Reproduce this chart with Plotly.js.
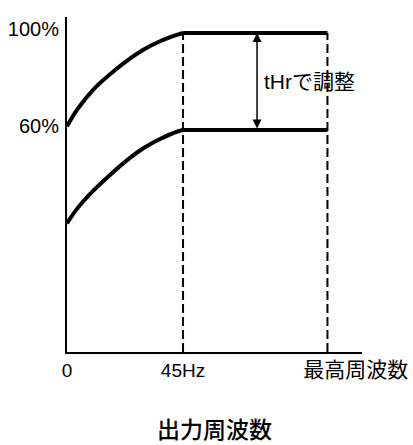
<!DOCTYPE html>
<html><head><meta charset="utf-8">
<script src="https://cdn.plot.ly/plotly-3.0.1.min.js"></script>
<style>html,body{margin:0;padding:0;background:#fff}</style>
</head><body><div id="chart" style="width:413px;height:445px"></div>
<script>
// Data (x: output frequency in Hz-like units, y: torque boost %)
const riseX = [0, 3.8, 10.2, 16.7, 23.2, 29.6, 36.1, 42.6, 45];
const upperRiseY = [61.5, 68.2, 76.7, 83.0, 88.5, 93.1, 96.6, 99.2, 100];
const lowerRiseY = [21.5, 27.4, 35.0, 41.5, 47.5, 52.5, 56.3, 59.3, 60];
const baseHz = 45;
const maxHz = 101;
const upperFlat = 100;
const lowerFlat = 60;
const arrowX = 73.7;
const xTickVals = [0, 45, 112];
const xTickText = ['0', '45Hz', '<span style="font-size:21px">最高周波数</span>'];
const yTickVals = [100, 60];
const yTickText = ['100%', '60%'];
const adjustLabel = 'tHrで調整';
const xTitle = '出力周波数';

const fam = 'Liberation Sans, Arial, Noto Sans CJK JP, sans-serif';
const cjk = 'Noto Sans CJK JP, sans-serif';
const curve = {color: '#000', width: 4};

const traces = [
  {x: riseX, y: upperRiseY, mode: 'lines',
   line: Object.assign({shape: 'spline', smoothing: 1}, curve), hoverinfo: 'skip'},
  {x: [baseHz, maxHz], y: [upperFlat, upperFlat], mode: 'lines', line: curve, hoverinfo: 'skip'},
  {x: riseX, y: lowerRiseY, mode: 'lines',
   line: Object.assign({shape: 'spline', smoothing: 1}, curve), hoverinfo: 'skip'},
  {x: [baseHz, maxHz], y: [lowerFlat, lowerFlat], mode: 'lines', line: curve, hoverinfo: 'skip'},
];

const layout = {
  width: 413, height: 445,
  margin: {l: 67, r: 51, t: 17, b: 93},
  paper_bgcolor: '#fff', plot_bgcolor: '#fff',
  showlegend: false,
  font: {family: fam, color: '#000'},
  xaxis: {
    range: [0, 114.4], showgrid: false, zeroline: false,
    showline: true, linecolor: '#000', linewidth: 2,
    ticks: '', tickvals: xTickVals, ticktext: xTickText,
    tickfont: {size: 19, family: fam},
    title: {text: xTitle, font: {size: 23, family: cjk, weight: 500}, standoff: 43},
    automargin: false, fixedrange: true
  },
  yaxis: {
    range: [-31.5, 106.6], showgrid: false, zeroline: false,
    showline: true, linecolor: '#000', linewidth: 2,
    ticks: '', tickvals: yTickVals, ticktext: yTickText,
    tickfont: {size: 20, family: fam}, ticklabelshift: -4, ticklabelstandoff: 2,
    automargin: false, fixedrange: true
  },
  shapes: [
    {type: 'line', x0: baseHz, x1: baseHz, y0: -31.5, y1: upperFlat,
     line: {color: '#000', width: 2, dash: '9px,4px'}},
    {type: 'line', x0: maxHz, x1: maxHz, y0: -31.5, y1: upperFlat,
     line: {color: '#000', width: 2, dash: '9px,4px'}}
  ],
  annotations: [
    {x: arrowX, y: upperFlat, ax: arrowX, ay: lowerFlat, xref: 'x', yref: 'y',
     axref: 'x', ayref: 'y', showarrow: true, arrowside: 'end+start',
     arrowhead: 2, arrowsize: 1.2, arrowwidth: 1.5, arrowcolor: '#000', text: ''},
    {x: arrowX + 1.8, y: 80, xref: 'x', yref: 'y', xanchor: 'left', yanchor: 'middle',
     showarrow: false, text: adjustLabel, font: {size: 21, family: fam}}
  ]
};

Plotly.newPlot('chart', traces, layout, {displayModeBar: false, staticPlot: true});
</script></body></html>
